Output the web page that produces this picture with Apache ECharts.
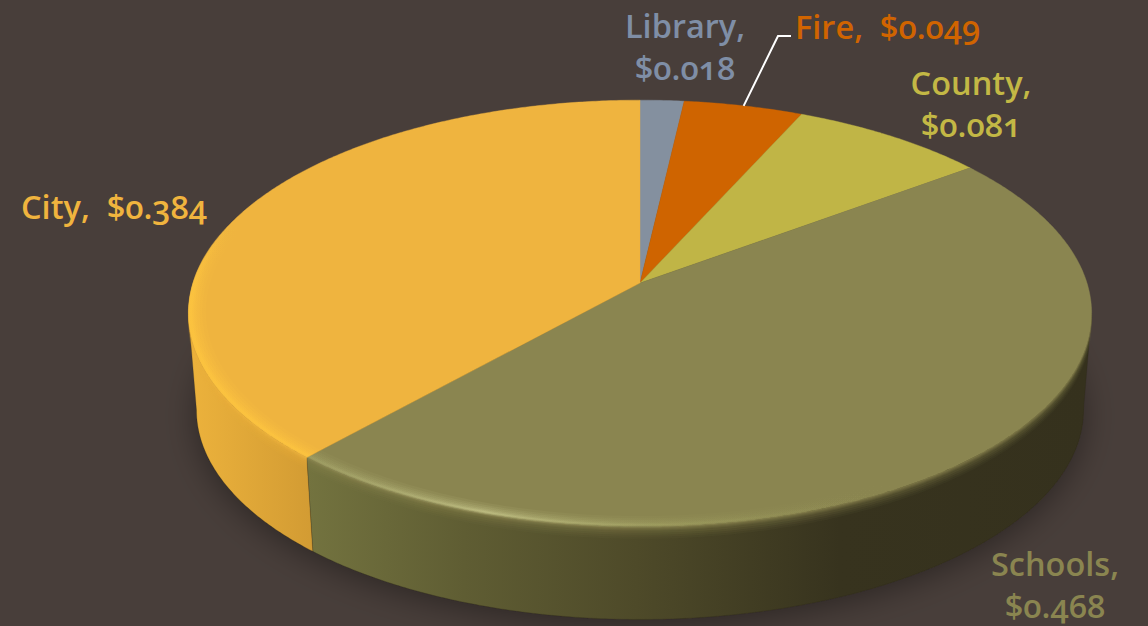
<!DOCTYPE html>
<html>
<head>
<meta charset="utf-8">
<title>Property tax share</title>
<style>
  html, body { margin: 0; padding: 0; background: #483e3a; }
  #chart { width: 1148px; height: 626px; }
  /* old-style figures for the dollar amounts */
  #chart text { font-feature-settings: "onum" 1 !important; font-variant-numeric: oldstyle-nums !important; }
</style>
</head>
<body>
<div id="chart"></div>
<script src="https://cdn.jsdelivr.net/npm/echarts@6/dist/echarts.min.js"></script>
<script>
// Where each dollar goes, clockwise from twelve o'clock.
const categories = ['Library', 'Fire', 'County', 'Schools', 'City'];
const values = [0.018, 0.049, 0.081, 0.468, 0.384];
const topColors = ['#84909f', '#cf6400', '#c0b546', '#8a8550', '#efb43f'];
const labelColors = ['#7f8ea6', '#d06400', '#c3b845', '#8a8550', '#f0b43e'];

// Label placement, keyed by category; one anchor per text line.
const labelLayout = {
  Library: { align: 'center', anchors: [[685, 25], [685, 67]] },
  Fire: { align: 'left', anchors: [[795, 26]] },
  County: { align: 'center', anchors: [[971, 82], [971, 124]] },
  Schools: { align: 'center', anchors: [[1055, 563], [1055, 605]] },
  City: { align: 'left', anchors: [[21, 206]] }
};
const leaderElbow = [[778, 36], [791, 36]];

// Perspective disc: a unit circle seen from above and in front.
const disc = { cx: 640, cy: 283, a: 447, b: 209, k: 0.1429, depth: 97, shrink: 0.982 };
// Angular range of the rim that faces the viewer.
const wallFrom = 98.2, wallTo = 261.8;

function project(deg, r, lower) {
  const t = deg * Math.PI / 180;
  const u = r * Math.sin(t), v = r * Math.cos(t);
  const w = 1 + disc.k * v;
  const x = disc.a * u / w, y = -disc.b * v / w;
  if (lower) {
    return [disc.cx + x * disc.shrink, disc.cy + y * disc.shrink + disc.depth];
  }
  return [disc.cx + x, disc.cy + y];
}
function arc(from, to, r, lower) {
  const pts = [];
  const n = Math.max(2, Math.ceil(Math.abs(to - from) * 2));
  for (let i = 0; i <= n; i++) pts.push(project(from + (to - from) * i / n, r, lower));
  return pts;
}
// A band along the rim, from radius r on the top face out to the rim dropped by d pixels.
function rimBand(from, to, r, d) {
  const outer = arc(from, to, 1, false).map(p => [p[0], p[1] + d]);
  return outer.concat(arc(to, from, r, false));
}
const hGrad = (x0, x1, stops) => new echarts.graphic.LinearGradient(x0, 0, x1, 0, stops, true);
const vGrad = (y0, y1, stops) => new echarts.graphic.LinearGradient(0, y0, 0, y1, stops, true);

// Cumulative angles of each slice.
const total = values.reduce((s, v) => s + v, 0);
let running = 0;
const spans = values.map(v => {
  const start = running / total * 360;
  running += v;
  return [start, running / total * 360];
});

const wallFill = {
  Schools: hGrad(308, 1090, [
    { offset: 0, color: '#73733f' },
    { offset: 0.2, color: '#5f5d33' },
    { offset: 0.42, color: '#4e4a29' },
    { offset: 0.68, color: '#37331e' },
    { offset: 1, color: '#35311d' }
  ]),
  City: hGrad(190, 314, [
    { offset: 0, color: '#ecb23c' },
    { offset: 1, color: '#d29b33' }
  ])
};
const rimFill = {
  Schools: hGrad(308, 900, [
    { offset: 0, color: 'rgba(165,165,105,0.75)' },
    { offset: 0.3, color: 'rgba(200,200,140,1)' },
    { offset: 0.6, color: 'rgba(165,165,100,0.75)' },
    { offset: 0.85, color: 'rgba(150,148,88,0.4)' },
    { offset: 1, color: 'rgba(138,133,80,0)' }
  ]),
  City: vGrad(225, 300, [
    { offset: 0, color: 'rgba(255,198,63,0)' },
    { offset: 1, color: 'rgba(255,198,63,1)' }
  ])
};
const rimRange = { Schools: [wallFrom, 221.8], City: [221.8, 305] };
// [inner radius, drop below the rim, opacity] of each stacked bevel layer.
const bevelLayers = [[0.962, 1, 0.1], [0.97, 0.5, 0.13], [0.976, 0, 0.16], [0.982, -0.5, 0.2], [0.987, -1, 0.3], [0.991, -1.5, 0.4]];
// [drop below the rim, opacity] of the layers blending the top colour into the wall.
const meltLayers = [[12, 0.06], [10, 0.08], [8, 0.1], [6, 0.13], [4, 0.16], [3, 0.2], [2, 0.25], [1, 0.3]];

function renderSlice(params, api) {
  const i = params.dataIndex;
  const name = categories[api.value(0)];
  const [start, end] = spans[i];
  const children = [];

  // Side wall, only where the slice faces the viewer.
  const a = Math.max(start, wallFrom), b = Math.min(end, wallTo);
  if (b > a) {
    children.push({
      type: 'polygon',
      shape: { points: arc(a, b, 1, false).concat(arc(b, a, 1, true)) },
      style: { fill: wallFill[name] || topColors[i], stroke: 'rgba(40,36,22,0.35)', lineWidth: 0.6 }
    });
    // The top colour melts into the wall over a few pixels.
    meltLayers.forEach(([d, op]) => {
      children.push({
        type: 'polygon',
        shape: { points: rimBand(a, b, 1, d) },
        style: { fill: topColors[i], opacity: op }
      });
    });
  }
  // Top face.
  children.push({
    type: 'polygon',
    shape: { points: [[disc.cx, disc.cy]].concat(arc(start, end, 1, false)) },
    style: { fill: topColors[i], stroke: topColors[i], lineWidth: 0.4 }
  });
  // Soft bevel along the near edge of the top face.
  if (rimRange[name]) {
    const [r0, r1] = rimRange[name];
    bevelLayers.forEach(([r, d, op]) => {
      children.push({
        type: 'polygon',
        shape: { points: rimBand(Math.max(r0, start), Math.min(r1, end), r, d) },
        style: { fill: rimFill[name], opacity: op }
      });
    });
  }
  return { type: 'group', children };
}

function renderLabel(params, api) {
  const i = params.dataIndex;
  const name = categories[api.value(0)];
  const place = labelLayout[name];
  const amount = '$' + values[i].toFixed(3);
  const lines = place.anchors.length === 2 ? [name + ',', amount] : [name + ',  ' + amount];
  const children = lines.map((text, n) => ({
    type: 'text',
    style: {
      text,
      x: place.anchors[n][0], y: place.anchors[n][1],
      fill: labelColors[i],
      font: '600 32.5px "Open Sans", Lato, sans-serif',
      lineHeight: 33,
      align: place.align,
      verticalAlign: 'middle'
    }
  }));
  // The narrow Fire slice is tied to its label with a leader.
  if (name === 'Fire') {
    const mid = (spans[i][0] + spans[i][1]) / 2;
    children.push({
      type: 'polyline',
      shape: { points: [project(mid, 1, false)].concat(leaderElbow) },
      style: { fill: 'none', stroke: '#ffffff', lineWidth: 2 }
    });
  }
  return { type: 'group', children };
}

const chart = echarts.init(document.getElementById('chart'), null, { renderer: 'svg' });
chart.setOption({
  backgroundColor: '#483e3a',
  animation: false,
  tooltip: { show: false },
  series: [
    {
      // Ground shadow cast by the disc.
      type: 'custom', coordinateSystem: 'none', silent: true, z: 1,
      data: [[0]],
      renderItem: () => ({
        type: 'polygon',
        shape: { points: arc(0, 360, 1, true) },
        style: { fill: '#35311d', shadowBlur: 32, shadowColor: 'rgba(0,0,0,0.38)', shadowOffsetY: 6 }
      })
    },
    {
      type: 'custom', coordinateSystem: 'none', silent: true, z: 2,
      data: categories.map((c, i) => [i, values[i]]),
      renderItem: renderSlice
    },
    {
      type: 'custom', coordinateSystem: 'none', silent: true, z: 3,
      data: categories.map((c, i) => [i, values[i]]),
      renderItem: renderLabel
    }
  ]
});
</script>
</body>
</html>
